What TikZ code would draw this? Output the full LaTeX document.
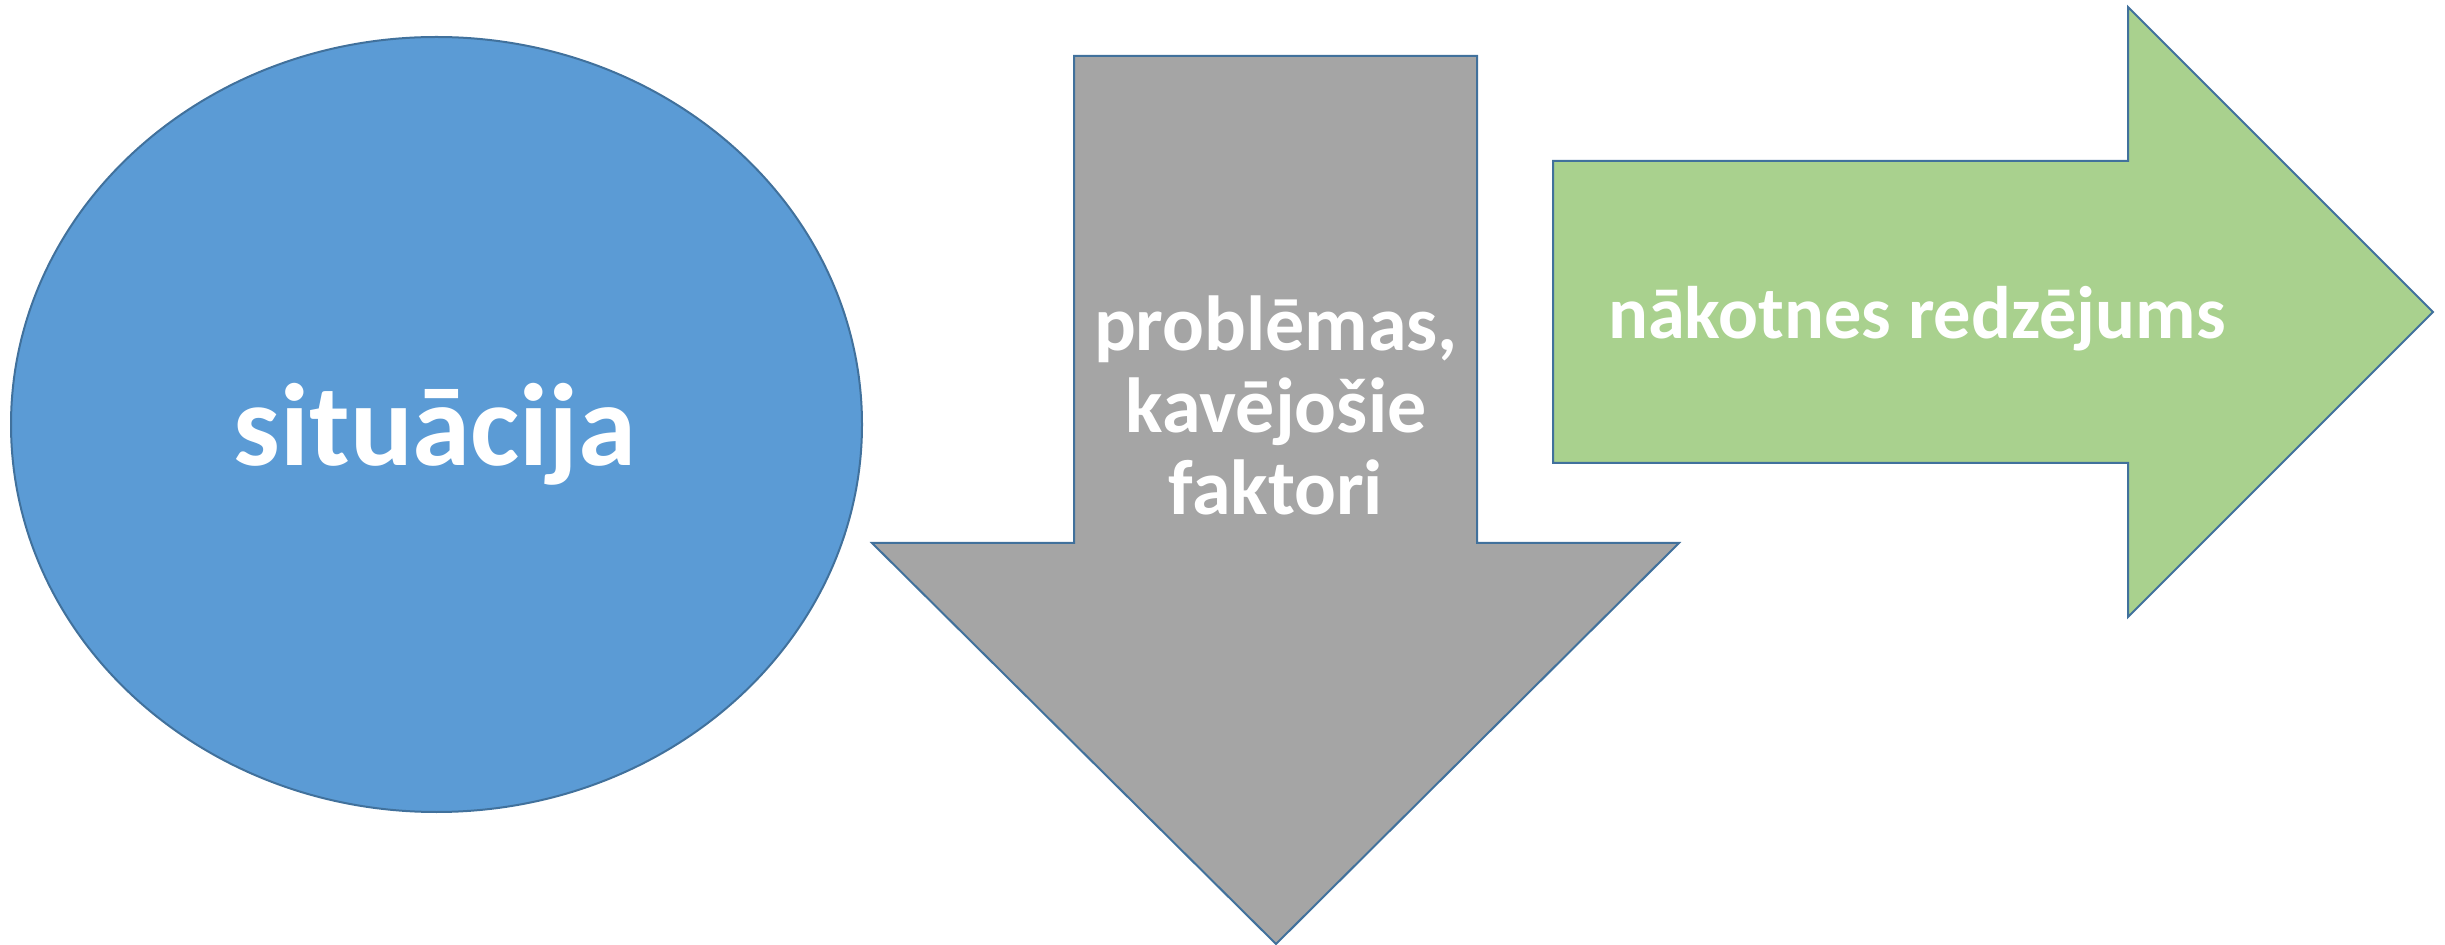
\documentclass[tikz,border=0pt]{standalone}
\usepackage{fontspec}
\setmainfont{Carlito}
\usetikzlibrary{shapes.geometric,positioning}
\definecolor{edgeblue}{HTML}{41719C}
\definecolor{sitblue}{HTML}{5B9BD5}
\definecolor{probgray}{HTML}{A5A5A5}
\definecolor{visgreen}{HTML}{A9D18E}
\tikzstyle{outlined} = [draw=edgeblue, line width=1pt, line join=miter]
\tikzstyle{whitetext} = [text=white, inner sep=0pt, align=center]

\begin{document}
\begin{tikzpicture}[x=0.5pt,y=-0.5pt]
        \useasboundingbox (0,0) rectangle (2445,945);
        \node [outlined, fill=sitblue, ellipse, minimum width=425.5pt, minimum height=387.5pt, inner sep=0pt] (sit) at (436.5,424.5) {};
        \node [whitetext, font=\fontsize{58.6}{70}\selectfont\bfseries] (sittext) at (435,434) {situācija};
        % down arrow
        \draw [outlined, fill=probgray] (1074,56) -- (1477,56) -- (1477,543) -- (1679,543) -- (1276,944) -- (872,543) -- (1074,543) -- cycle;
        \node [whitetext, font=\fontsize{39}{41}\selectfont\bfseries] (prob) at (1276,405) {problēmas,\\kavējošie\\faktori};
        % right arrow
        \draw [outlined, fill=visgreen] (1553,161) -- (2128,161) -- (2128,7) -- (2433,312) -- (2128,617) -- (2128,463) -- (1553,463) -- cycle;
        \node [whitetext, font=\fontsize{37.2}{45}\selectfont\bfseries] (vis) at (1917,319) {nākotnes redzējums};
    \end{tikzpicture}
\end{document}
